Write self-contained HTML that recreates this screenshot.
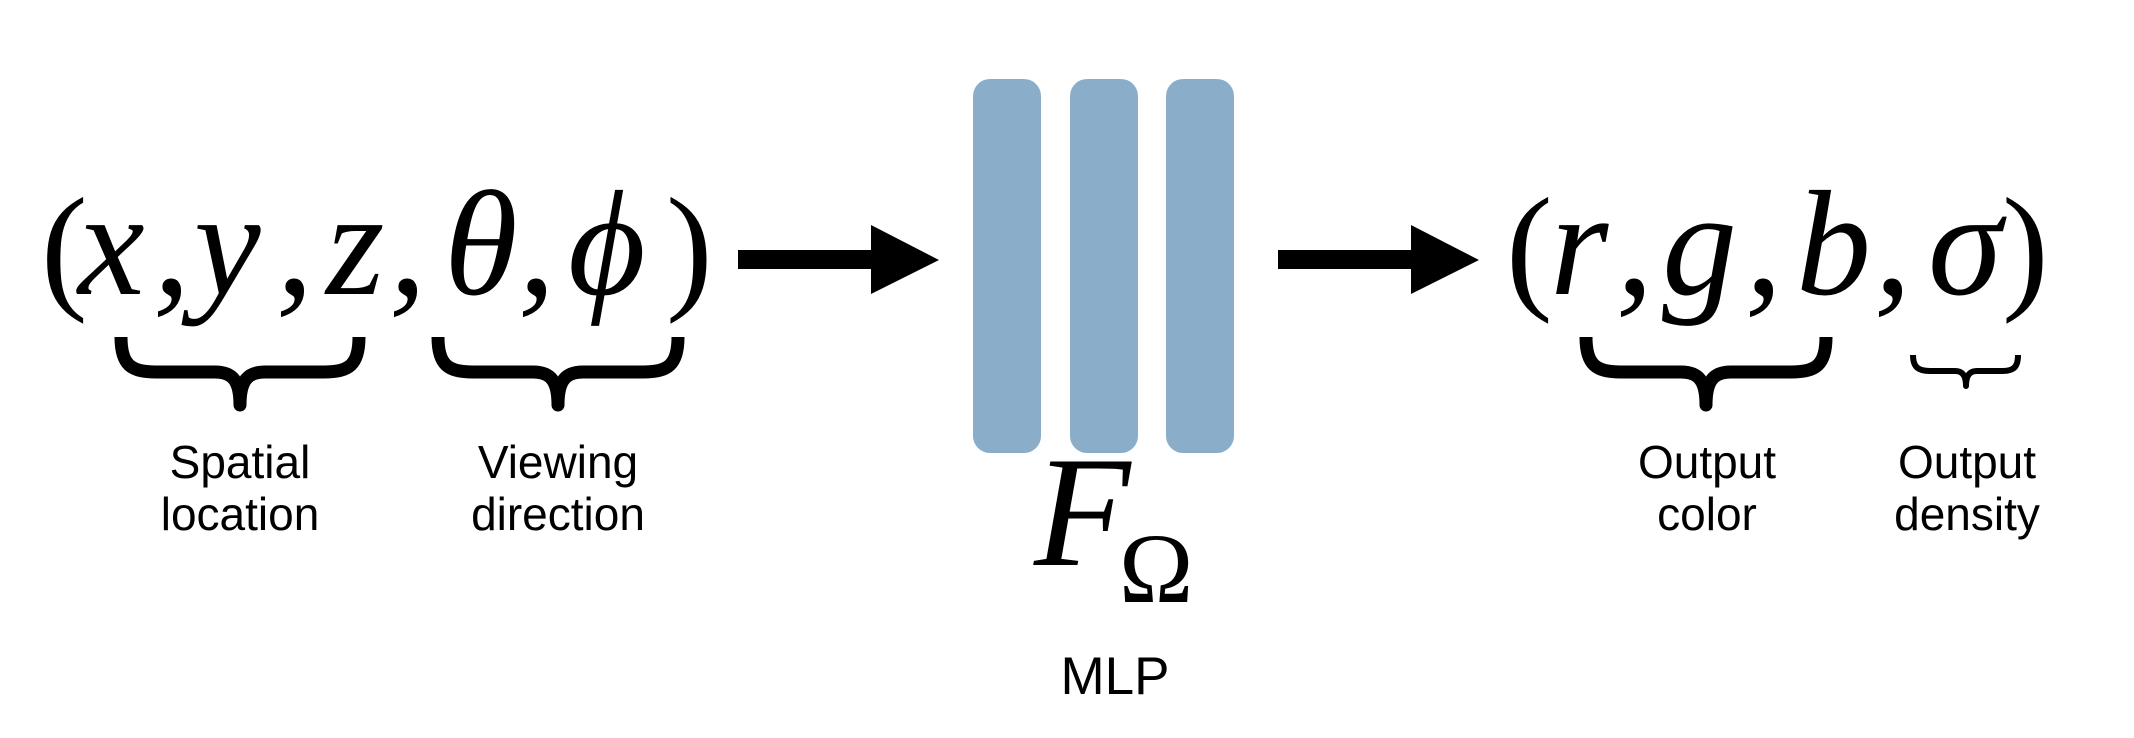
<!DOCTYPE html>
<html><head><meta charset="utf-8"><style>
html,body{margin:0;padding:0;background:#fff;}
svg{display:block;}
.m{font-family:"Liberation Serif",serif;font-size:140px;fill:#000;}
.i{font-style:italic;font-size:150px;}
.l{font-family:"Liberation Sans",sans-serif;font-size:46px;fill:#000;text-anchor:middle;}
</style></head><body>
<svg width="2134" height="738" viewBox="0 0 2134 738" xmlns="http://www.w3.org/2000/svg">
<rect width="2134" height="738" fill="#fff"/>
<!-- left tuple -->
<text class="m" x="41" y="294">(</text>
<text class="m i" x="78" y="294">x</text>
<text class="m i" x="153" y="294">,</text>
<text class="m i" x="194" y="294">y</text>
<text class="m i" x="276" y="294">,</text>
<text class="m i" x="326" y="294">z</text>
<text class="m i" x="389" y="294">,</text>
<text class="m i" x="444" y="294">θ</text>
<text class="m i" x="518" y="294">,</text>
<text class="m i" x="568" y="294">ϕ</text>
<text class="m" x="666" y="294">)</text>
<!-- braces -->
<g fill="none" stroke="#000" stroke-width="13" stroke-linejoin="round">
<path d="M121,337 C121,365 131,372 156,372 L215,372 C232,372 240,380 240,405 C240,380 248,372 265,372 L324,372 C349,372 359,365 359,337"/>
<path d="M438,337 C438,365 448,372 473,372 L533,372 C550,372 558,380 558,405 C558,380 566,372 583,372 L643,372 C668,372 678,365 678,337"/>
<path d="M1586,337 C1586,365 1596,372 1621,372 L1681,372 C1698,372 1706,380 1706,405 C1706,380 1714,372 1731,372 L1791,372 C1816,372 1826,365 1826,337"/>
<path stroke-width="6" d="M1913,355 C1913,367 1918,371 1930,371 L1955,371 C1962,371 1966,375 1966,386 C1966,375 1970,371 1977,371 L2002,371 C2014,371 2018,367 2018,355"/>
</g>
<!-- arrows -->
<path d="M738,250 L871,250 L871,225 L939,260 L871,294 L871,269 L738,269 Z" fill="#000"/>
<path d="M1278,250 L1411,250 L1411,225 L1479,260 L1411,294 L1411,269 L1278,269 Z" fill="#000"/>
<!-- bars -->
<g fill="#8aaec9">
<rect x="973" y="79" width="68" height="374" rx="17"/>
<rect x="1070" y="79" width="68" height="374" rx="17"/>
<rect x="1166" y="79" width="68" height="374" rx="17"/>
</g>
<text class="m i" x="1034" y="565" style="font-size:158px">F</text>
<text class="m" x="1119" y="602" style="font-size:100px">Ω</text>
<text class="l" x="1115" y="694" style="font-size:53px">MLP</text>
<!-- right tuple -->
<text class="m" x="1506" y="294">(</text>
<text class="m i" x="1550" y="294">r</text>
<text class="m i" x="1616" y="294">,</text>
<text class="m i" x="1662" y="294">g</text>
<text class="m i" x="1745" y="294">,</text>
<text class="m i" x="1796" y="294">b</text>
<text class="m i" x="1874" y="294">,</text>
<text class="m i" x="1928" y="294">σ</text>
<text class="m" x="2002" y="294">)</text>
<!-- labels -->
<text class="l" x="240" y="478">Spatial</text>
<text class="l" x="240" y="530">location</text>
<text class="l" x="558" y="478">Viewing</text>
<text class="l" x="558" y="530">direction</text>
<text class="l" x="1707" y="478">Output</text>
<text class="l" x="1707" y="530">color</text>
<text class="l" x="1967" y="478">Output</text>
<text class="l" x="1967" y="530">density</text>
</svg>
</body></html>
